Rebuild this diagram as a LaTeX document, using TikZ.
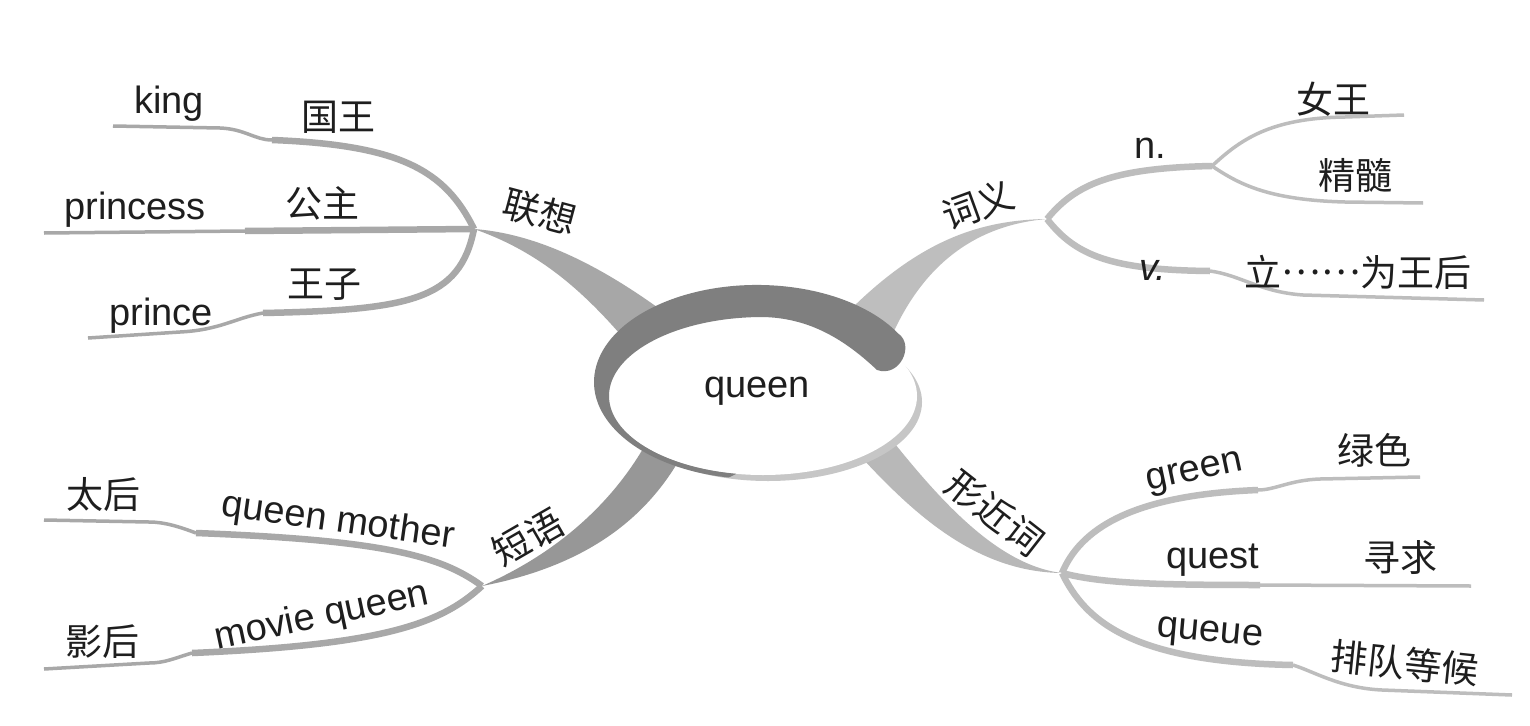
\documentclass[tikz,border=0pt]{standalone}
\usepackage{fontspec}
\setmainfont{Liberation Sans}
\newfontfamily\cjk{Noto Sans CJK SC}
\usetikzlibrary{positioning}
\definecolor{ringgray}{HTML}{7F7F7F}
\definecolor{assocgray}{HTML}{A7A7A7}
\definecolor{sensegray}{HTML}{BEBEBE}
\definecolor{phrasegray}{HTML}{979797}
\definecolor{formgray}{HTML}{B8B8B8}
\definecolor{leftline}{HTML}{A8A8A8}
\definecolor{rightline}{HTML}{BDBDBD}
\definecolor{inkgray}{HTML}{1E1E1E}

\begin{document}
\begin{tikzpicture}[x=1pt,y=-1pt,
  every node/.style={inner sep=0pt,text=inkgray,font=\fontsize{38}{44}\selectfont},
  zh/.style={font=\fontsize{37}{44}\selectfont\cjk},
  stemL/.style={draw=leftline,line width=6.5pt},
  twigL/.style={draw=leftline,line width=3.5pt},
  stemR/.style={draw=rightline,line width=6.5pt},
  twigR/.style={draw=rightline,line width=3.5pt}]
\fill[white] (0,0) rectangle (1530,725);
\useasboundingbox (0,0) rectangle (1530,725);

% hubs of the four branches
\coordinate (assoc) at (474,229);
\coordinate (sense) at (1047,219);
\coordinate (phrase) at (482,586);
\coordinate (form) at (1062,573);

% main branches
\fill[assocgray] (assoc) .. controls (540,234) and (605,268) .. (672,318) -- (632,348) .. controls (585,292) and (540,252) .. (assoc) -- cycle;
\fill[sensegray] (sense) .. controls (980,220) and (920,240) .. (848,312) -- (890,340) .. controls (922,265) and (975,225) .. (sense) -- cycle;
\fill[phrasegray] (phrase) .. controls (560,552) and (615,500) .. (648,440) -- (682,455) .. controls (642,527) and (575,568) .. (phrase) -- cycle;
\fill[formgray] (form) .. controls (995,565) and (935,495) .. (880,425) -- (850,445) .. controls (905,505) and (970,572) .. (form) -- cycle;

% step points and ends
\coordinate (kingstep) at (272,140);
\coordinate (kingend) at (113,126);
\coordinate (princessstep) at (245,231);
\coordinate (princessend) at (44,233);
\coordinate (princestep) at (263,313);
\coordinate (princeend) at (88,338);
\coordinate (nhub) at (1212,166);
\coordinate (nqueenend) at (1404,115);
\coordinate (essenceend) at (1423,203);
\coordinate (vstep) at (1210,271);
\coordinate (vend) at (1484,300);
\coordinate (motherstep) at (196,533);
\coordinate (motherend) at (44,520);
\coordinate (moviestep) at (192,653);
\coordinate (movieend) at (44,669);
\coordinate (greenstep) at (1258,490);
\coordinate (greenend) at (1420,477);
\coordinate (queststep) at (1260,585);
\coordinate (questend) at (1471,586);
\coordinate (queuestep) at (1293,665);
\coordinate (queueend) at (1512,695);

% left: association
\draw[stemL] (assoc) .. controls (445,170) and (400,145) .. (kingstep);
\draw[twigL] (kingstep) .. controls (255,140) and (245,129) .. (220,128) -- (kingend);
\draw[stemL] (assoc) -- (princessstep);
\draw[twigL] (princessstep) -- (princessend);
\draw[stemL] (assoc) .. controls (460,300) and (410,310) .. (princestep);
\draw[twigL] (princestep) .. controls (235,318) and (220,330) .. (180,332) -- (princeend);

% right: meanings
\draw[stemR] (sense) .. controls (1075,185) and (1110,168) .. (nhub);
\draw[twigR] (nhub) .. controls (1240,140) and (1270,118) .. (1345,117) -- (nqueenend);
\draw[twigR] (nhub) .. controls (1240,185) and (1270,200) .. (1345,202) -- (essenceend);
\draw[stemR] (sense) .. controls (1075,255) and (1110,270) .. (vstep);
\draw[twigR] (vstep) .. controls (1240,275) and (1260,292) .. (1303,295) -- (vend);

% left: phrases
\draw[stemL] (phrase) .. controls (440,555) and (380,540) .. (motherstep);
\draw[twigL] (motherstep) .. controls (180,527) and (165,522) .. (149,522) -- (motherend);
\draw[stemL] (phrase) .. controls (440,625) and (380,645) .. (moviestep);
\draw[twigL] (moviestep) .. controls (175,658) and (165,663) .. (149,663) -- (movieend);

% right: similar words
\draw[stemR] (form) .. controls (1080,530) and (1130,495) .. (greenstep);
\draw[twigR] (greenstep) .. controls (1275,490) and (1290,480) .. (1320,479) -- (greenend);
\draw[stemR] (form) .. controls (1100,583) and (1150,585) .. (queststep);
\draw[twigR] (queststep) -- (questend);
\draw[stemR] (form) .. controls (1085,620) and (1130,662) .. (queuestep);
\draw[twigR] (queuestep) .. controls (1315,672) and (1340,688) .. (1382,690) -- (queueend);

% centre disc
\fill[gray!45] (768,402) ellipse[x radius=154, y radius=79];
\fill[white] (763,396) ellipse[x radius=154, y radius=79];
\fill[ringgray] (728.7,477.5) arc[start angle=100, end angle=330, x radius=163, y radius=97]
  .. controls (915,345) and (900,378) .. (877,370)
  .. controls (840,335) and (805,318) .. (763,317)
  arc[start angle=270, end angle=100, x radius=154, y radius=79] -- cycle;
\node (queen) at (757,391) {queen};

% labels
\node[zh,rotate=-15] (assoclabel) at (540,212) {联想};
\node (king) at (169,104) {king};
\node[zh] (guowang) at (338,117) {国王};
\node (princess) at (135,210) {princess};
\node[zh] (gongzhu) at (322,203) {公主};
\node[zh] (wangzi) at (324,285) {王子};
\node (prince) at (161,316) {prince};

\node[zh,rotate=20] (senselabel) at (978,205) {词义};
\node (noun) at (1150,148) {n.};
\node[zh] (nvwang) at (1333,99) {女王};
\node[zh] (jingsui) at (1355,175) {精髓};
\node[font=\fontsize{38}{44}\selectfont\itshape] (verb) at (1153,270) {v.};
\node[zh] (crown) at (1358,272) {立\raisebox{0.32em}{……}为王后};

\node[zh,rotate=30] (phraselabel) at (528,537) {短语};
\node[zh] (taihou) at (103,494) {太后};
\node[rotate=-8] (mother) at (338,522) {queen mother};
\node[rotate=12] (movie) at (322,617) {movie queen};
\node[zh] (yinghou) at (102,642) {影后};

\node[zh,rotate=-38] (formlabel) at (995,513) {形近词};
\node[rotate=12] (green) at (1195,474) {green};
\node[zh] (lvse) at (1374,450) {绿色};
\node (quest) at (1213,560) {quest};
\node[zh] (xunqiu) at (1400,558) {寻求};
\node[rotate=-5] (queue) at (1210,635) {queue};
\node[zh,rotate=-6] (paidui) at (1405,663) {排队等候};
\end{tikzpicture}
\end{document}
